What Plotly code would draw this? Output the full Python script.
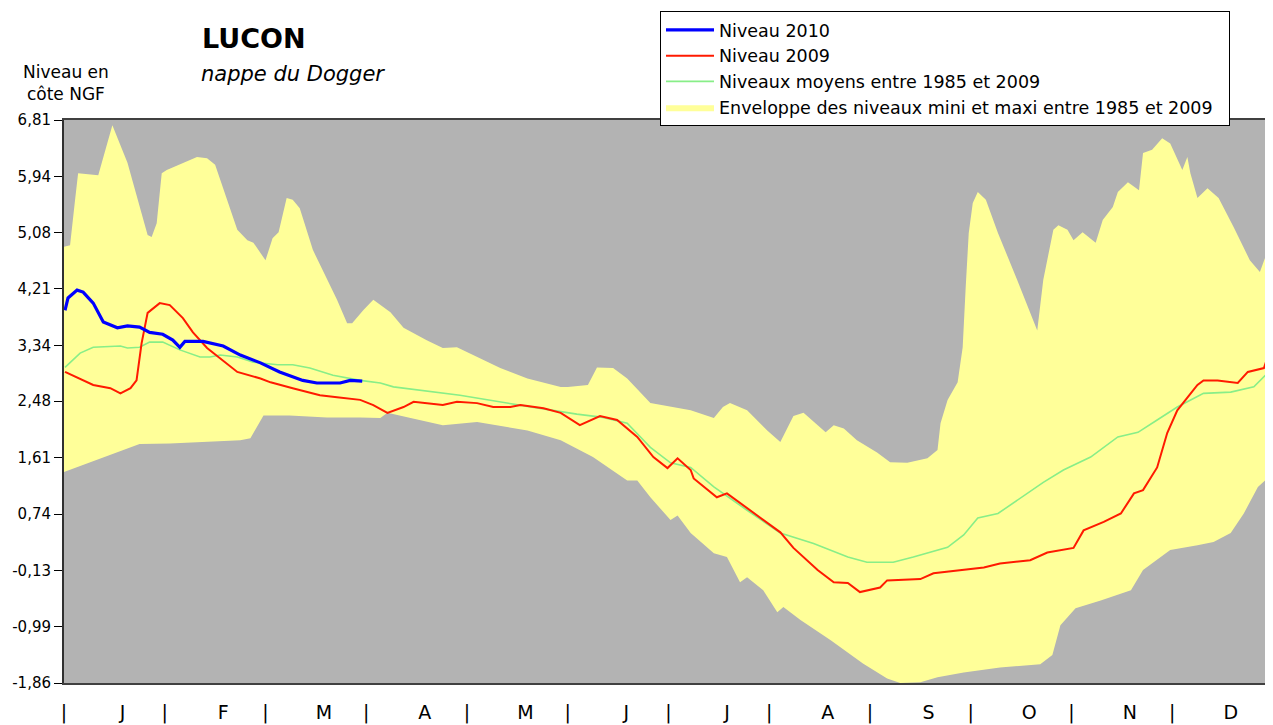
import plotly.graph_objects as go

# ---------------- DATA (x in months from 1 January, 0..12) ----------------
month_labels = ["J", "F", "M", "A", "M", "J", "J", "A", "S", "O", "N", "D"]
y_tick_values = [6.81, 5.94, 5.08, 4.21, 3.34, 2.48, 1.61, 0.74, -0.13, -0.99, -1.86]
y_tick_labels = ["6,81", "5,94", "5,08", "4,21", "3,34", "2,48", "1,61", "0,74", "-0,13", "-0,99", "-1,86"]

env_max_x = [0.0, 0.06, 0.11, 0.14, 0.34, 0.38, 0.48, 0.63, 0.83, 0.87, 0.92, 0.97, 1.02, 1.32, 1.42,
             1.50, 1.72, 1.82, 1.88, 2.00, 2.07, 2.13, 2.21, 2.27, 2.34, 2.47, 2.71, 2.81, 2.86, 2.97,
             3.07, 3.24, 3.37, 3.60, 3.76, 3.90, 4.10, 4.33, 4.60, 4.93, 5.00, 5.20, 5.29, 5.45, 5.59,
             5.82, 6.22, 6.45, 6.54, 6.61, 6.78, 6.98, 7.11, 7.24, 7.34, 7.44, 7.56, 7.64, 7.74, 7.87,
             8.07, 8.20, 8.37, 8.57, 8.67, 8.70, 8.77, 8.87, 8.92, 8.95, 8.98, 9.02, 9.07, 9.15, 9.27,
             9.46, 9.66, 9.72, 9.82, 9.87, 9.96, 10.02, 10.11, 10.24, 10.31, 10.41, 10.46, 10.56, 10.67,
             10.71, 10.80, 10.90, 10.98, 11.10, 11.15, 11.18, 11.25, 11.35, 11.46, 11.61, 11.77, 11.87,
             11.95, 12.0]
env_max_y = [4.86, 4.88, 5.58, 5.99, 5.96, 6.19, 6.73, 6.15, 5.04, 5.01, 5.22, 5.99, 6.04, 6.24, 6.22,
             6.12, 5.12, 4.96, 4.92, 4.65, 4.99, 5.08, 5.61, 5.58, 5.45, 4.81, 4.04, 3.68, 3.68, 3.88,
             4.04, 3.85, 3.61, 3.42, 3.30, 3.31, 3.16, 2.99, 2.83, 2.70, 2.70, 2.73, 3.00, 2.99, 2.83,
             2.45, 2.34, 2.22, 2.39, 2.45, 2.34, 2.03, 1.85, 2.25, 2.30, 2.16, 2.00, 2.11, 2.06, 1.88,
             1.69, 1.54, 1.53, 1.60, 1.73, 2.14, 2.50, 2.77, 3.31, 4.24, 5.07, 5.53, 5.70, 5.58, 5.07,
             4.35, 3.57, 4.35, 5.12, 5.19, 5.12, 4.96, 5.08, 4.92, 5.27, 5.47, 5.70, 5.85, 5.73,
             6.30, 6.35, 6.53, 6.45, 6.04, 6.24, 5.99, 5.61, 5.76, 5.61, 5.16, 4.65, 4.47,
             4.81, 4.88]

env_min_x = [0.0, 0.16, 0.36, 0.75, 1.05, 1.35, 1.75, 1.85, 1.90, 1.98, 2.24, 2.61, 2.94, 3.14, 3.21,
             3.44, 3.76, 4.10, 4.60, 4.93, 5.25, 5.59, 5.69, 5.82, 6.02, 6.09, 6.22, 6.25, 6.45, 6.58,
             6.71, 6.78, 6.94, 7.08, 7.14, 7.31, 7.61, 7.93, 8.17, 8.30, 8.50, 8.67, 8.93, 9.29, 9.69,
             9.81, 9.89, 10.04, 10.29, 10.59, 10.71, 10.98, 11.25, 11.41, 11.58, 11.71, 11.85, 12.0]
env_min_y = [1.39, 1.48, 1.59, 1.82, 1.83, 1.85, 1.88, 1.91, 2.03, 2.26, 2.26, 2.23, 2.23, 2.22, 2.30,
             2.22, 2.11, 2.16, 2.03, 1.88, 1.62, 1.26, 1.26, 1.00, 0.65, 0.72, 0.45, 0.42, 0.14, 0.08,
             -0.31, -0.23, -0.43, -0.77, -0.69, -0.89, -1.20, -1.56, -1.79, -1.86, -1.85, -1.77, -1.70, -1.62, -1.57,
             -1.43, -0.97, -0.71, -0.59, -0.43, -0.12, 0.19, 0.26, 0.31, 0.45, 0.75, 1.16, 1.37]

mean_x = [0.01, 0.16, 0.29, 0.56, 0.63, 0.75, 0.85, 0.98, 1.15, 1.35, 1.45, 1.55, 1.72, 1.88, 2.12,
          2.27, 2.44, 2.67, 2.94, 3.14, 3.27, 3.93, 4.60, 5.09, 5.35, 5.59, 5.82, 6.02, 6.22, 6.45,
          6.78, 7.11, 7.44, 7.78, 7.97, 8.23, 8.43, 8.77, 8.93, 9.07, 9.27, 9.46, 9.72, 9.92, 10.19,
          10.46, 10.66, 10.85, 11.05, 11.31, 11.58, 11.81, 12.0]
mean_y = [3.00, 3.22, 3.31, 3.33, 3.30, 3.31, 3.39, 3.39, 3.27, 3.16, 3.16, 3.19, 3.16, 3.08, 3.04,
          3.04, 2.99, 2.88, 2.80, 2.76, 2.70, 2.57, 2.40, 2.28, 2.23, 2.14, 1.77, 1.53, 1.46, 1.16,
          0.80, 0.45, 0.29, 0.08, 0.00, 0.00, 0.08, 0.23, 0.42, 0.68, 0.75, 0.95, 1.23, 1.42, 1.62,
          1.93, 2.00, 2.19, 2.39, 2.60, 2.62, 2.70, 3.00]

y2009_x = [0.01, 0.29, 0.46, 0.56, 0.66, 0.72, 0.77, 0.83, 0.95, 1.05, 1.18, 1.28, 1.42, 1.55, 1.72,
           1.95, 2.05, 2.27, 2.54, 2.71, 2.94, 3.07, 3.14, 3.21, 3.37, 3.47, 3.76, 3.90, 4.10, 4.26,
           4.43, 4.53, 4.76, 4.93, 5.12, 5.32, 5.49, 5.69, 5.85, 5.99, 6.09, 6.22, 6.25, 6.48, 6.58,
           6.91, 7.11, 7.24, 7.48, 7.64, 7.78, 7.90, 8.10, 8.17, 8.50, 8.63, 8.93, 9.13, 9.29, 9.59,
           9.76, 10.02, 10.12, 10.32, 10.49, 10.62, 10.71, 10.85, 10.95, 11.05, 11.25, 11.31, 11.45,
           11.65, 11.75, 11.91, 11.96, 12.0]
y2009_y = [2.93, 2.73, 2.68, 2.60, 2.68, 2.80, 3.37, 3.84, 3.99, 3.96, 3.76, 3.54, 3.30, 3.14, 2.93,
           2.83, 2.77, 2.68, 2.57, 2.54, 2.50, 2.42, 2.36, 2.30, 2.39, 2.47, 2.42, 2.47, 2.45, 2.39,
           2.39, 2.42, 2.37, 2.30, 2.11, 2.25, 2.19, 1.93, 1.62, 1.45, 1.60, 1.42, 1.29, 1.00, 1.06,
           0.68, 0.46, 0.22, -0.12, -0.31, -0.32, -0.46, -0.39, -0.28, -0.26, -0.17, -0.11, -0.08, -0.02, 0.03,
           0.15, 0.22, 0.49, 0.62, 0.75, 1.06, 1.11, 1.46, 1.99, 2.34, 2.73, 2.80, 2.80,
           2.76, 2.93, 2.99, 3.22, 3.61]

y2010_x = [0.01, 0.04, 0.13, 0.19, 0.29, 0.39, 0.53, 0.63, 0.75, 0.85, 0.98, 1.08, 1.15, 1.20, 1.38,
           1.58, 1.75, 1.95, 2.14, 2.37, 2.51, 2.74, 2.84, 2.96]
y2010_y = [3.88, 4.07, 4.19, 4.16, 3.99, 3.70, 3.61, 3.64, 3.62, 3.54, 3.51, 3.42, 3.31, 3.40, 3.40,
           3.33, 3.19, 3.07, 2.93, 2.80, 2.76, 2.76, 2.80, 2.79]

# ---------------- LAYOUT GEOMETRY ----------------
# the page body has an 8 px margin, so the figure is offset by 8 px
OFF = 8
W, H = 1273 - OFF, 725 - OFF
ML, MR, MT, MB = 64 - OFF, 0, 120 - OFF, 42
PW, PH = W - ML - MR, H - MT - MB


def px(x):
    """window pixel x -> paper coordinate"""
    return (x - OFF - ML) / PW


def py(y):
    """window pixel y -> paper coordinate"""
    return (H - MB - (y - OFF)) / PH


FONT = "DejaVu Sans, Arial, sans-serif"
LABEL_SHIFT = 0.08  # month letters sit slightly right of the month centre

fig = go.Figure()

env_x = env_max_x + env_min_x[::-1]
env_y = env_max_y + env_min_y[::-1]
fig.add_trace(go.Scatter(x=env_x, y=env_y, fill="toself", fillcolor="#ffff99",
                         line=dict(width=0, color="#ffff99"), mode="lines",
                         name="Enveloppe des niveaux mini et maxi entre 1985 et 2009\u00a0\u00a0",
                         hoverinfo="skip"))
fig.add_trace(go.Scatter(x=mean_x, y=mean_y, mode="lines",
                         line=dict(color="#88ee88", width=1.6),
                         name="Niveaux moyens entre 1985 et 2009"))
fig.add_trace(go.Scatter(x=y2009_x, y=y2009_y, mode="lines",
                         line=dict(color="#ff1a00", width=2),
                         name="Niveau 2009"))
fig.add_trace(go.Scatter(x=y2010_x, y=y2010_y, mode="lines",
                         line=dict(color="#0000ff", width=3.2),
                         name="Niveau 2010"))

tickvals = []
ticktext = []
for i in range(12):
    tickvals += [i, i + 0.5 + LABEL_SHIFT]
    ticktext += ["|", month_labels[i]]
tickvals.append(12)
ticktext.append("|")

fig.update_layout(
    width=W, height=H,
    margin=dict(l=ML, r=MR, t=MT, b=MB, pad=0, autoexpand=False),
    paper_bgcolor="white",
    plot_bgcolor="#b3b3b3",
    font=dict(family=FONT, color="black"),
    showlegend=True,
    legend=dict(
        x=px(660), y=py(11), xanchor="left", yanchor="top",
        traceorder="reversed",
        bordercolor="black", borderwidth=1,
        bgcolor="white",
        font=dict(size=17.5, family=FONT),
        itemwidth=48,
        tracegroupgap=0,
    ),
    xaxis=dict(
        range=[0, 12], showgrid=False, zeroline=False, automargin=False,
        showline=True, linecolor="#404040", linewidth=2, mirror=True,
        tickmode="array", tickvals=tickvals, ticktext=ticktext,
        ticks="", ticklabelstandoff=11,
        tickfont=dict(size=19, family=FONT),
        fixedrange=True,
    ),
    yaxis=dict(
        range=[-1.86, 6.81], showgrid=False, zeroline=False, automargin=False,
        showline=True, linecolor="#303030", linewidth=2, mirror=True,
        tickmode="array", tickvals=y_tick_values, ticktext=y_tick_labels,
        ticks="outside", ticklen=8, tickcolor="black", tickwidth=1,
        tickfont=dict(size=15, family=FONT),
        fixedrange=True,
    ),
    hovermode=False,
)

fig.add_annotation(text="<b>LUCON</b>", x=px(200), y=py(38), xref="paper", yref="paper",
                   xanchor="left", yanchor="middle", showarrow=False,
                   font=dict(size=27, family=FONT, color="black"))
fig.add_annotation(text="<i>nappe du Dogger</i>", x=px(199), y=py(74), xref="paper", yref="paper",
                   xanchor="left", yanchor="middle", showarrow=False,
                   font=dict(size=21, family=FONT, color="black"))
fig.add_annotation(text="Niveau en<br>côte NGF", x=px(66), y=py(83), xref="paper", yref="paper",
                   xanchor="center", yanchor="middle", showarrow=False, align="center",
                   font=dict(size=17, family=FONT, color="black"))

fig.write_html("out.html", config={"displayModeBar": False})
